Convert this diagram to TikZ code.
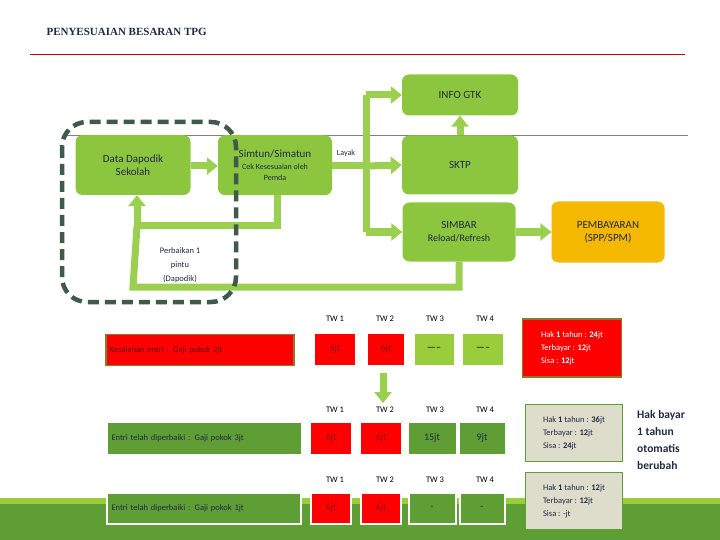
\documentclass[tikz,border=0pt]{standalone}
\usepackage{fontspec}
\setmainfont{Carlito}
\newfontfamily\titlefont{Liberation Serif}
\usetikzlibrary{arrows.meta,positioning}
\definecolor{boxgreen}{HTML}{8CC63F}
\definecolor{flowgreen}{HTML}{9BCF4F}
\definecolor{darkgreen}{HTML}{5E9E35}
\definecolor{lightgreen}{HTML}{9ACD3C}
\definecolor{cellred}{HTML}{FF0000}
\definecolor{olive}{HTML}{8A7A2A}
\definecolor{beige}{HTML}{DEDCCB}
\definecolor{navy}{HTML}{1F2A44}
\definecolor{dashgray}{HTML}{3E5A48}
\definecolor{orangebox}{HTML}{F5B800}

\begin{document}
\begin{tikzpicture}[%
      x=1pt, y=-1pt,
      gbox/.style={fill=boxgreen, rounded corners=7pt, text=navy, align=center, font=\fontsize{11}{13}\selectfont},
      flow/.style={draw=flowgreen, line width=7pt, -{Triangle[length=11pt,width=17pt]}},
      bar/.style={draw=flowgreen, line width=7pt},
      cell/.style={minimum height=31pt, font=\fontsize{10}{12}\selectfont, inner sep=0pt},
      hak/.style={align=left, font=\fontsize{8.5}{13}\selectfont, inner sep=6pt},
      tw/.style={font=\fontsize{8.5}{10}\selectfont},
      ]
      \useasboundingbox (0,0) rectangle (720,540);
      % background
      \fill[lightgreen] (0,498) rectangle (720,504);
      \fill[darkgreen] (0,504) rectangle (720,540);
      \node[anchor=west, font=\titlefont\bfseries\fontsize{11}{13}\selectfont, text=navy] (title) at (43,32) {PENYESUAIAN BESARAN TPG};
      \draw[red!80!black, line width=1pt] (30,55) -- (685,55);
      \draw[gray, line width=0.5pt] (65,135) -- (688,135);

      % flow boxes
      \node[gbox, minimum width=115pt, minimum height=60pt] (dapodik) at (133,165) {Data Dapodik\\Sekolah};
      \node[gbox, minimum width=114pt, minimum height=60pt, anchor=north, inner sep=2pt] (simtun) at (275,135)
            {Simtun/Simatun\\[-1pt]{\fontsize{8}{10}\selectfont Cek Kesesuaian oleh}\\[-2pt]{\fontsize{8}{10}\selectfont Pemda}};
      \node[gbox, minimum width=116pt, minimum height=41pt] (info) at (460,95) {INFO GTK};
      \node[gbox, minimum width=116pt, minimum height=59pt] (sktp) at (460,165) {SKTP};
      \node[gbox, minimum width=113pt, minimum height=59pt] (simbar) at (459,232) {SIMBAR\\{\fontsize{10}{12}\selectfont Reload/Refresh}};
      \node[fill=orangebox, draw=orangebox!60!white, dashed, rounded corners=7pt, text=navy, align=center,
            font=\fontsize{11}{13}\selectfont, minimum width=113pt, minimum height=61pt] (bayar) at (608,232) {PEMBAYARAN\\(SPP/SPM)};
      \node[font=\fontsize{8}{10}\selectfont, text=navy] (layak) at (346,153) {Layak};

      % connectors
      \coordinate (trunk) at (366,166);
      \coordinate (top) at (366,95);
      \coordinate (low) at (366,232);
      \coordinate (drop) at (277,195);
      \coordinate (loopa) at (137,226);
      \coordinate (loopb) at (133,287);
      \draw[flow] (dapodik.east |- trunk) -- (simtun.west |- trunk);
      \draw[bar] (simtun.east |- trunk) -- (trunk);
      \draw[bar] (top) -- (low);
      \draw[flow] (top) -- (info.west);
      \draw[flow] (trunk) -- (sktp.west);
      \draw[flow] (low) -- (simbar.west);
      \draw[flow] (sktp.north) -- (info.south);
      \draw[flow] (simbar.east) -- (bayar.west);
      \draw[bar] (drop) |- (loopa);
      \draw[flow] (loopa) -- (loopa |- dapodik.south);
      \draw[bar] (simbar.south) |- (loopb) -- (loopa);
      \node[align=center, font=\fontsize{8.5}{14}\selectfont, text=navy] (perbaikan) at (180,265) {Perbaikan 1\\pintu\\(Dapodik)};
      \draw[dashgray, line width=4.5pt, dash pattern=on 11pt off 6pt, rounded corners=25pt] (62,122) rectangle (236,302);

      % table headers
      \foreach \r/\y in {a/319, b/410, c/480} {
        \foreach \i/\x in {1/335, 2/385, 3/435, 4/485} {
          \node[tw] (tw\r\i) at (\x,\y) {TW \i};
        }
      }

      % row 1
      \node[cell, fill=cellred, draw=olive, line width=1.5pt, minimum width=188pt, anchor=west, text=red!40!black, font=\fontsize{8.5}{10}\selectfont, text width=180pt, align=left] (errA) at (105,350) {Kesalahan entri : Gaji pokok 2jt};
      \node[cell, fill=cellred, minimum width=40pt, text=red!60!black] (a1) at (335,349) {6jt};
      \node[cell, fill=cellred, minimum width=36pt, text=red!60!black] (a2) at (386,349) {6jt};
      \node[cell, fill=lightgreen, minimum width=39pt] (a3) at (434,349) {-----};
      \node[cell, fill=lightgreen, minimum width=40pt] (a4) at (483,349) {-----};
      \node[hak, fill=cellred, draw=olive, line width=1.5pt, text=white, minimum width=99pt, minimum height=58pt] (hakA) at (572,348)
            {Hak \textbf{1} tahun : \textbf{24}jt\\Terbayar : \textbf{12}jt\\Sisa : \textbf{12}jt};
      \coordinate (downa) at (383,373);
      \coordinate (downb) at (383,403);
      \draw[flow] (downa) -- (downb);

      % row 2
      \node[cell, fill=darkgreen, minimum width=193pt, text=navy, font=\fontsize{8.5}{10}\selectfont, text width=185pt, align=left] (errB) at (204,438) {Entri telah diperbaiki : Gaji pokok 3jt};
      \node[cell, fill=cellred, minimum width=40pt, text=red!60!black] (b1) at (331,438) {6jt};
      \node[cell, fill=cellred, minimum width=40pt, text=red!60!black] (b2) at (381,438) {6jt};
      \node[cell, fill=darkgreen, minimum width=47pt, text=navy] (b3) at (432,438) {15jt};
      \node[cell, fill=darkgreen, minimum width=45pt, text=navy] (b4) at (482,438) {9jt};
      \node[hak, fill=beige, draw=darkgreen, line width=1.5pt, text=navy, minimum width=97pt, minimum height=57pt] (hakB) at (574,433)
            {Hak \textbf{1} tahun : \textbf{36}jt\\Terbayar : \textbf{12}jt\\Sisa : \textbf{24}jt};
      \node[align=left, anchor=north west, font=\bfseries\fontsize{11.5}{17}\selectfont, text=navy, inner sep=0pt] (note) at (637,410)
            {Hak bayar\\1 tahun\\otomatis\\berubah};

      % row 3
      \node[cell, fill=darkgreen, draw=white, line width=2pt, minimum width=194pt, text=navy, font=\fontsize{8.5}{10}\selectfont, text width=185pt, align=left] (errC) at (204,508) {Entri telah diperbaiki : Gaji pokok 1jt};
      \node[cell, fill=cellred, draw=white, line width=2pt, minimum width=40pt, text=red!60!black] (c1) at (331,508) {6jt};
      \node[cell, fill=cellred, draw=white, line width=2pt, minimum width=40pt, text=red!60!black] (c2) at (381,508) {6jt};
      \node[cell, fill=darkgreen, draw=white, line width=2pt, minimum width=47pt, text=navy] (c3) at (432,508) {-};
      \node[cell, fill=darkgreen, draw=white, line width=2pt, minimum width=45pt, text=navy] (c4) at (482,508) {-};
      \node[hak, fill=beige, draw=darkgreen, line width=1.5pt, text=navy, minimum width=97pt, minimum height=57pt] (hakC) at (574,501)
            {Hak \textbf{1} tahun : \textbf{12}jt\\Terbayar : \textbf{12}jt\\Sisa : -jt};
      \end{tikzpicture}
\end{document}
